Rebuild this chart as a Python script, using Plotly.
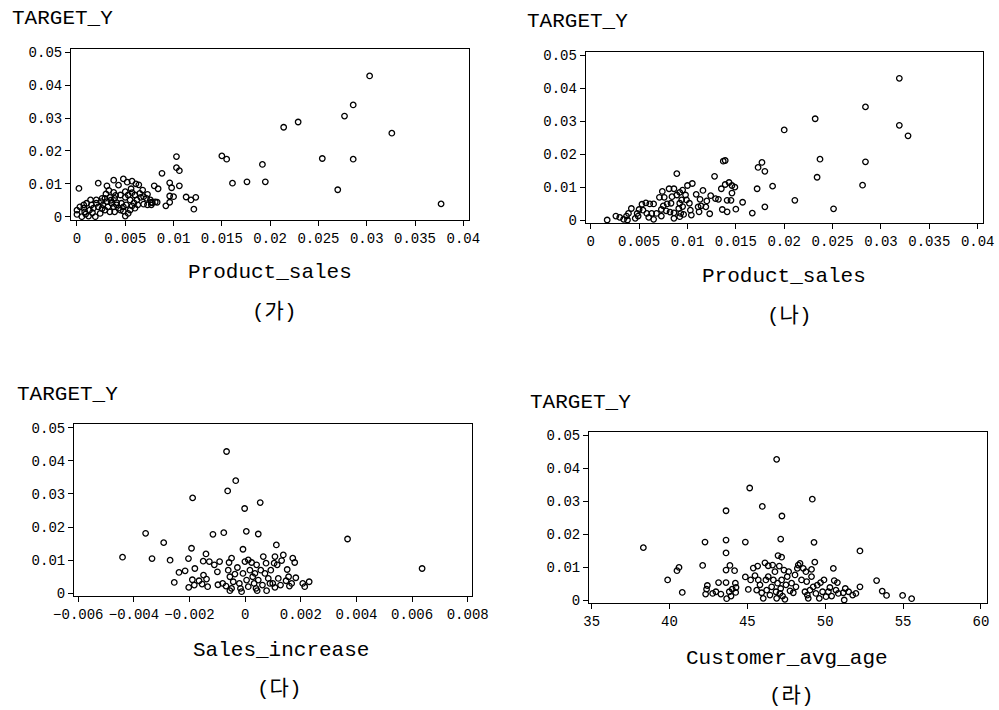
import plotly.graph_objects as go

# ---------------- data ----------------
# (가) Product_sales vs TARGET_Y
ga_x = [0.0303, 0.0286, 0.0277, 0.0229, 0.0214, 0.0326, 0.0254, 0.0286, 0.0270, 0.0377,
        0.0150, 0.0155, 0.0192, 0.0161, 0.0176, 0.0195, 0.0103, 0.0103, 0.0106, 0.0088,
        0.0096, 0.0098, 0.0106, 0.0096, 0.0100, 0.0096, 0.0092, 0.0113, 0.0118, 0.0123,
        0.0121, 0.0080, 0.0084, 0.0081, 0.0077, 0.0002, 0.0022, 0.0031,
        0.0038, 0.0043, 0.0048, 0.0052, 0.0057, 0.0061, 0.0064, 0.0068, 0.0056, 0.0038,
        0.0030, 0.0045, 0.0050, 0.0057, 0.0073, 0.0072, 0.0066, 0.0062, 0.0069, 0.0073,
        0.0078, 0.0083, 0.0057, 0.0053, 0.0050, 0.0048, 0.0043, 0.0038, 0.0031, 0.0026,
        0.0020, 0.0014, 0.0010, 0.0007, 0.0003, 0.0000, 0.0000, 0.0005, 0.0012, 0.0019,
        0.0024, 0.0029, 0.0034, 0.0017, 0.0022, 0.0027, 0.0032, 0.0036, 0.0041, 0.0046,
        0.0051, 0.0013, 0.0008, 0.0007, 0.0015, 0.0020, 0.0025, 0.0029, 0.0034, 0.0039,
        0.0041, 0.0045, 0.0039, 0.0050, 0.0053, 0.0060, 0.0065, 0.0069, 0.0076, 0.0077,
        0.0063, 0.0060, 0.0055, 0.0048, 0.0055, 0.0035, 0.0040, 0.0026, 0.0016, 0.0009,
        0.0033, 0.0059]
ga_y = [0.0428, 0.0340, 0.0306, 0.0288, 0.0272, 0.0254, 0.0177, 0.0175, 0.0082, 0.0039,
        0.0185, 0.0175, 0.0159, 0.0102, 0.0106, 0.0106, 0.0183, 0.0149, 0.0140, 0.0132,
        0.0103, 0.0088, 0.0094, 0.0063, 0.0061, 0.0044, 0.0033, 0.0060, 0.0051, 0.0059,
        0.0023, 0.0094, 0.0085, 0.0045, 0.0044, 0.0086, 0.0102, 0.0094,
        0.0111, 0.0096, 0.0115, 0.0105, 0.0108, 0.0100, 0.0097, 0.0081, 0.0085, 0.0074,
        0.0069, 0.0066, 0.0059, 0.0073, 0.0068, 0.0056, 0.0059, 0.0051, 0.0038, 0.0036,
        0.0042, 0.0044, 0.0033, 0.0010, 0.0002, 0.0017, 0.0026, 0.0030, 0.0046, 0.0056,
        0.0051, 0.0051, 0.0041, 0.0036, 0.0030, 0.0020, 0.0007, 0.0000, 0.0002, 0.0000,
        0.0010, 0.0020, 0.0015, 0.0026, 0.0030, 0.0036, 0.0030, 0.0041, 0.0043, 0.0041,
        0.0036, 0.0020, 0.0015, 0.0026, 0.0036, 0.0041, 0.0046, 0.0056, 0.0059, 0.0056,
        0.0036, 0.0020, 0.0015, 0.0076, 0.0066, 0.0066, 0.0071, 0.0061, 0.0051, 0.0036,
        0.0036, 0.0026, 0.0020, 0.0030, 0.0051, 0.0050, 0.0065, 0.0025, 0.0012, 0.0008,
        0.0080, 0.0042]

# (나) Product_sales vs TARGET_Y
na_x = [0.0319, 0.0284, 0.0319, 0.0328, 0.0232, 0.0200, 0.0237, 0.0284, 0.0234, 0.0281,
        0.0211, 0.0251, 0.0177, 0.0173, 0.0180, 0.0188, 0.0172, 0.0180, 0.0167, 0.0157,
        0.0150, 0.0137, 0.0139, 0.0089, 0.0128, 0.0143, 0.0139, 0.0146, 0.0149, 0.0135,
        0.0146, 0.0141, 0.0145, 0.0136, 0.0141, 0.0123, 0.0124, 0.0129, 0.0132, 0.0116,
        0.0109, 0.0105, 0.0100, 0.0095, 0.0092, 0.0086, 0.0081, 0.0074, 0.0076, 0.0071,
        0.0113, 0.0120, 0.0114, 0.0111, 0.0119, 0.0112, 0.0104, 0.0103, 0.0099, 0.0094,
        0.0092, 0.0095, 0.0091, 0.0093, 0.0096, 0.0092, 0.0086, 0.0086, 0.0083, 0.0079,
        0.0075, 0.0073, 0.0078, 0.0082, 0.0073, 0.0068, 0.0065, 0.0063, 0.0065, 0.0061,
        0.0057, 0.0053, 0.0054, 0.0058, 0.0060, 0.0050, 0.0048, 0.0046, 0.0049, 0.0042,
        0.0039, 0.0037, 0.0034, 0.0030, 0.0026, 0.0038, 0.0017, 0.0089, 0.0098, 0.0084,
        0.0102]
na_y = [0.0431, 0.0344, 0.0288, 0.0256, 0.0308, 0.0274, 0.0185, 0.0177, 0.0130, 0.0106,
        0.0060, 0.0034, 0.0175, 0.0160, 0.0148, 0.0103, 0.0095, 0.0040, 0.0021, 0.0054,
        0.0033, 0.0179, 0.0181, 0.0141, 0.0133, 0.0114, 0.0108, 0.0105, 0.0100, 0.0095,
        0.0082, 0.0060, 0.0060, 0.0032, 0.0025, 0.0019, 0.0074, 0.0065, 0.0063, 0.0090,
        0.0078, 0.0111, 0.0105, 0.0091, 0.0084, 0.0095, 0.0095, 0.0087, 0.0069, 0.0069,
        0.0063, 0.0058, 0.0043, 0.0040, 0.0040, 0.0025, 0.0015, 0.0030, 0.0061, 0.0061,
        0.0051, 0.0041, 0.0035, 0.0020, 0.0017, 0.0010, 0.0005, 0.0022, 0.0051, 0.0049,
        0.0043, 0.0032, 0.0028, 0.0024, 0.0012, 0.0020, 0.0002, 0.0020, 0.0049, 0.0049,
        0.0052, 0.0048, 0.0030, 0.0020, 0.0008, 0.0032, 0.0020, 0.0005, 0.0012, 0.0035,
        0.0020, 0.0012, 0.0002, 0.0008, 0.0012, 0.0000, 0.0000, 0.0076, 0.0076, 0.0071,
        0.0051]

# (다) Sales_increase vs TARGET_Y
da_x = [-0.00067, -0.00034, -0.00063, -0.00189, 0.00054, -0.00002, 0.00004, -0.00077, -0.00116, 0.00047,
        -0.00358, -0.00293, -0.00193, -0.00008, 0.00112, 0.00368, 0.00636, -0.00441, -0.00335, -0.00270,
        -0.00204, -0.00141, -0.00151, -0.00181, -0.00238, -0.00216, -0.00255, -0.00203, -0.00190, -0.00183,
        -0.00166, -0.00155, -0.00150, -0.00139, -0.00135, -0.00129, -0.00111, -0.00100, -0.00092, -0.00098,
        -0.00081, -0.00069, -0.00058, -0.00049, -0.00061, -0.00055, -0.00049, -0.00055, -0.00043, -0.00037,
        -0.00028, -0.00021, -0.00017, -0.00013, -0.00008, -0.00001, 0.00005, 0.00011, 0.00011, 0.00017,
        0.00023, 0.00027, 0.00032, 0.00035, 0.00039, 0.00043, 0.00047, 0.00056, 0.00062, 0.00065,
        0.00071, 0.00075, 0.00077, 0.00083, 0.00092, 0.00099, 0.00104, 0.00107, 0.00107, 0.00115,
        0.00119, 0.00127, 0.00131, 0.00137, 0.00147, 0.00151, 0.00156, 0.00159, 0.00167, 0.00171,
        0.00178, 0.00182, 0.00207, 0.00214, 0.00230, 0.00089, 0.00041]
da_y = [0.0428, 0.0340, 0.0309, 0.0288, 0.0274, 0.0256, 0.0187, 0.0183, 0.0178, 0.0179,
        0.0181, 0.0153, 0.0136, 0.0133, 0.0146, 0.0164, 0.0075, 0.0109, 0.0105, 0.0100,
        0.0105, 0.0119, 0.0097, 0.0075, 0.0063, 0.0068, 0.0033, 0.0018, 0.0041, 0.0025,
        0.0038, 0.0028, 0.0055, 0.0043, 0.0020, 0.0096, 0.0086, 0.0065, 0.0096, 0.0026,
        0.0030, 0.0022, 0.0093, 0.0106, 0.0070, 0.0050, 0.0015, 0.0008, 0.0035, 0.0058,
        0.0078, 0.0030, 0.0015, 0.0005, 0.0060, 0.0096, 0.0040, 0.0101, 0.0020, 0.0070,
        0.0093, 0.0050, 0.0030, 0.0060, 0.0015, 0.0008, 0.0040, 0.0070, 0.0025, 0.0111,
        0.0060, 0.0091, 0.0008, 0.0045, 0.0070, 0.0030, 0.0091, 0.0111, 0.0018, 0.0086,
        0.0045, 0.0025, 0.0099, 0.0116, 0.0038, 0.0072, 0.0050, 0.0022, 0.0030, 0.0106,
        0.0093, 0.0047, 0.0030, 0.0020, 0.0035, 0.0030, 0.0086]

# (라) Customer_avg_age vs TARGET_Y
ra_x = [46.88, 45.15, 49.17, 45.96, 43.63, 47.22, 38.32, 42.28, 43.63, 44.87,
        47.14, 49.28, 52.23, 43.63, 46.97, 47.20, 39.88, 40.48, 40.61, 40.82,
        42.13, 42.32, 42.38, 42.43, 42.77, 42.98, 43.15, 43.30, 43.63, 43.63,
        43.67, 43.88, 43.84, 43.95, 44.03, 44.18, 44.23, 44.27, 44.25, 44.87,
        45.06, 45.21, 45.38, 45.49, 45.60, 45.66, 45.70, 45.81, 45.92, 46.02,
        46.13, 46.19, 46.24, 46.34, 46.34, 46.45, 46.56, 46.62, 46.67, 46.77,
        46.84, 46.88, 46.94, 47.05, 47.09, 47.14, 47.20, 47.26, 47.35, 47.41,
        47.48, 47.56, 47.65, 47.74, 47.84, 47.95, 48.06, 48.12, 48.21, 48.27,
        48.38, 48.48, 48.59, 48.70, 48.76, 48.81, 48.85, 48.91, 49.02, 49.12,
        49.12, 49.23, 49.33, 49.40, 49.49, 49.62, 49.70, 49.83, 49.92, 50.05,
        50.20, 50.30, 50.41, 50.52, 50.58, 50.69, 50.78, 50.84, 51.16, 51.22,
        51.29, 51.50, 51.76, 51.97, 52.23, 53.30, 53.66, 53.94, 54.97, 55.55]
ra_y = [0.0427, 0.0340, 0.0306, 0.0284, 0.0271, 0.0255, 0.0159, 0.0176, 0.0182, 0.0176,
        0.0185, 0.0175, 0.0149, 0.0143, 0.0135, 0.0130, 0.0061, 0.0089, 0.0099, 0.0023,
        0.0105, 0.0018, 0.0033, 0.0044, 0.0020, 0.0025, 0.0053, 0.0018, 0.0091, 0.0053,
        0.0004, 0.0105, 0.0025, 0.0012, 0.0033, 0.0089, 0.0051, 0.0038, 0.0023, 0.0070,
        0.0032, 0.0061, 0.0097, 0.0074, 0.0030, 0.0103, 0.0061, 0.0046, 0.0022, 0.0005,
        0.0113, 0.0061, 0.0030, 0.0071, 0.0104, 0.0015, 0.0040, 0.0106, 0.0061, 0.0086,
        0.0025, 0.0005, 0.0051, 0.0103, 0.0020, 0.0035, 0.0061, 0.0012, 0.0091, 0.0002,
        0.0046, 0.0071, 0.0086, 0.0028, 0.0051, 0.0022, 0.0076, 0.0040, 0.0096, 0.0106,
        0.0111, 0.0061, 0.0096, 0.0025, 0.0086, 0.0056, 0.0015, 0.0005, 0.0030, 0.0071,
        0.0093, 0.0040, 0.0115, 0.0020, 0.0045, 0.0005, 0.0053, 0.0025, 0.0061, 0.0010,
        0.0025, 0.0038, 0.0012, 0.0096, 0.0059, 0.0030, 0.0053, 0.0020, 0.0022, 0.0000,
        0.0035, 0.0025, 0.0015, 0.0020, 0.0040, 0.0059, 0.0027, 0.0014, 0.0014, 0.0004]

y_ticks = [0, 0.01, 0.02, 0.03, 0.04, 0.05]
y_tick_text = ["0", "0.01", "0.02", "0.03", "0.04", "0.05"]
ps_ticks = [0, 0.005, 0.01, 0.015, 0.02, 0.025, 0.03, 0.035, 0.04]
ps_tick_text = ["0", "0.005", "0.01", "0.015", "0.02", "0.025", "0.03", "0.035", "0.04"]
si_ticks = [-0.006, -0.004, -0.002, 0, 0.002, 0.004, 0.006, 0.008]
si_tick_text = ["\u22120.006", "\u22120.004", "\u22120.002", "0", "0.002", "0.004", "0.006", "0.008"]
age_ticks = [35, 40, 45, 50, 55, 60]
age_tick_text = ["35", "40", "45", "50", "55", "60"]

x_titles = ["Product_sales", "Product_sales", "Sales_increase", "Customer_avg_age"]
sub_labels = ["(가)", "(나)", "(다)", "(라)"]
y_title = "TARGET_Y"

# ---------------- layout ----------------
# body margin is removed by a small post-script, so the figure fills the window
W, H = 999, 710
FONT = "Liberation Mono, Noto Sans CJK KR, DejaVu Sans Mono"


def fx(px):
    return px / W


def fy(py):
    return 1 - py / H


panels = [
    dict(box=(71, 469, 49, 220), xr=[-0.00062, 0.04059], yr=[-0.0010, 0.0510],
         xt=ps_ticks, xtt=ps_tick_text, data=(ga_x, ga_y),
         ylab=(10, 19), xlab=(270, 273), sub=(274, 312)),
    dict(box=(585.7, 983.3, 52.3, 223.3), xr=[-0.00052, 0.04058], yr=[-0.0010, 0.0510],
         xt=ps_ticks, xtt=ps_tick_text, data=(na_x, na_y),
         ylab=(525, 22), xlab=(784, 277), sub=(789, 316)),
    dict(box=(74, 472.3, 424.3, 596), xr=[-0.006155, 0.008165], yr=[-0.0008, 0.0510],
         xt=si_ticks, xtt=si_tick_text, data=(da_x, da_y),
         ylab=(15, 394), xlab=(281, 650), sub=(279, 689)),
    dict(box=(589, 986.7, 431.7, 603.3), xr=[34.83, 60.37], yr=[-0.0010, 0.0511],
         xt=age_ticks, xtt=age_tick_text, data=(ra_x, ra_y),
         ylab=(528, 402), xlab=(787, 658), sub=(791, 696)),
]

fig = go.Figure()
annotations = []
layout = dict(
    width=W, height=H, margin=dict(l=0, r=0, t=0, b=0, autoexpand=False),
    paper_bgcolor="white", plot_bgcolor="white", showlegend=False,
    font=dict(family=FONT, color="black"),
)

for i, p in enumerate(panels, start=1):
    l, r, t, b = p["box"]
    xs, ys = p["data"]
    sfx = "" if i == 1 else str(i)
    fig.add_trace(go.Scatter(
        x=xs, y=ys, mode="markers", xaxis="x" + sfx, yaxis="y" + sfx,
        marker=dict(symbol="circle-open", size=5.5, color="black", line=dict(width=1.3)),
        hoverinfo="x+y",
    ))
    common = dict(showline=True, mirror=True, linecolor="black", linewidth=1,
                  showgrid=False, zeroline=False, ticks="outside", ticklen=5,
                  tickwidth=1, tickcolor="black", automargin=False, tickangle=0,
                  tickfont=dict(family=FONT, size=14, color="black"))
    layout["xaxis" + sfx] = dict(domain=[fx(l), fx(r)], range=p["xr"], anchor="y" + sfx,
                                tickmode="array", tickvals=p["xt"], ticktext=p["xtt"], **common)
    layout["yaxis" + sfx] = dict(domain=[fy(b), fy(t)], range=p["yr"], anchor="x" + sfx,
                                tickmode="array", tickvals=y_ticks, ticktext=y_tick_text, **common)
    lx, ly = p["ylab"]
    annotations.append(dict(text=y_title, x=fx(lx), y=fy(ly), xref="paper", yref="paper",
                            xanchor="left", yanchor="middle", showarrow=False,
                            font=dict(family=FONT, size=21, color="black")))
    tx, ty = p["xlab"]
    annotations.append(dict(text=x_titles[i - 1], x=fx(tx), y=fy(ty), xref="paper", yref="paper",
                            xanchor="center", yanchor="middle", showarrow=False,
                            font=dict(family=FONT, size=21, color="black")))
    sx, sy = p["sub"]
    annotations.append(dict(text=sub_labels[i - 1], x=fx(sx), y=fy(sy), xref="paper", yref="paper",
                            xanchor="center", yanchor="middle", showarrow=False,
                            font=dict(family=FONT, size=21, color="black")))

layout["annotations"] = annotations
fig.update_layout(**layout)
fig.write_html("out.html", config={"displayModeBar": False},
               post_script="document.body.style.margin='0';document.body.style.overflow='hidden';")
